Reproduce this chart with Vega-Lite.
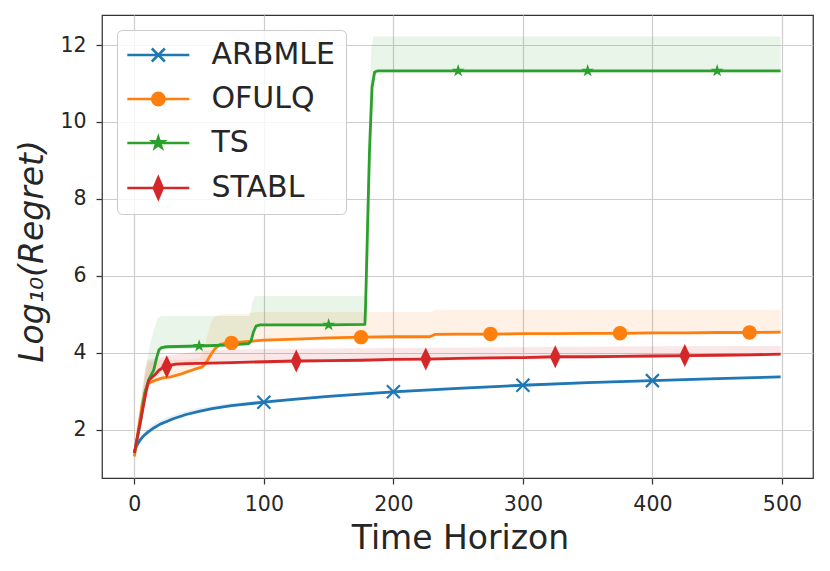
{
  "$schema": "https://vega.github.io/schema/vega-lite/v6.json",
  "description": "Log10 regret over the time horizon for ARBMLE, OFULQ, TS and STABL, with shaded spread bands.",
  "autosize": {"type": "none"},
  "padding": {"left": 102, "top": 15, "right": 17, "bottom": 93},
  "width": 711,
  "height": 463,
  "datasets": {
    "lines": [
      {"series": "ARBMLE", "x": 0, "y": 1.4},
      {"series": "ARBMLE", "x": 1, "y": 1.52},
      {"series": "ARBMLE", "x": 2, "y": 1.6},
      {"series": "ARBMLE", "x": 3, "y": 1.66},
      {"series": "ARBMLE", "x": 5, "y": 1.76},
      {"series": "ARBMLE", "x": 7, "y": 1.84},
      {"series": "ARBMLE", "x": 10, "y": 1.93},
      {"series": "ARBMLE", "x": 15, "y": 2.05},
      {"series": "ARBMLE", "x": 20, "y": 2.15},
      {"series": "ARBMLE", "x": 25, "y": 2.22},
      {"series": "ARBMLE", "x": 30, "y": 2.29},
      {"series": "ARBMLE", "x": 40, "y": 2.4},
      {"series": "ARBMLE", "x": 50, "y": 2.48},
      {"series": "ARBMLE", "x": 60, "y": 2.55},
      {"series": "ARBMLE", "x": 75, "y": 2.63},
      {"series": "ARBMLE", "x": 100, "y": 2.72},
      {"series": "ARBMLE", "x": 125, "y": 2.8},
      {"series": "ARBMLE", "x": 150, "y": 2.87},
      {"series": "ARBMLE", "x": 175, "y": 2.93},
      {"series": "ARBMLE", "x": 200, "y": 2.99},
      {"series": "ARBMLE", "x": 250, "y": 3.08},
      {"series": "ARBMLE", "x": 300, "y": 3.16},
      {"series": "ARBMLE", "x": 350, "y": 3.23},
      {"series": "ARBMLE", "x": 400, "y": 3.28},
      {"series": "ARBMLE", "x": 450, "y": 3.33},
      {"series": "ARBMLE", "x": 499, "y": 3.38},

      {"series": "OFULQ", "x": 0, "y": 1.31},
      {"series": "OFULQ", "x": 3, "y": 2.0},
      {"series": "OFULQ", "x": 6, "y": 2.65},
      {"series": "OFULQ", "x": 9, "y": 3.08},
      {"series": "OFULQ", "x": 11, "y": 3.21},
      {"series": "OFULQ", "x": 14, "y": 3.26},
      {"series": "OFULQ", "x": 17, "y": 3.3},
      {"series": "OFULQ", "x": 22, "y": 3.35},
      {"series": "OFULQ", "x": 28, "y": 3.38},
      {"series": "OFULQ", "x": 35, "y": 3.44},
      {"series": "OFULQ", "x": 40, "y": 3.5},
      {"series": "OFULQ", "x": 46, "y": 3.57},
      {"series": "OFULQ", "x": 52, "y": 3.63},
      {"series": "OFULQ", "x": 55, "y": 3.72},
      {"series": "OFULQ", "x": 58, "y": 3.9},
      {"series": "OFULQ", "x": 62, "y": 4.1},
      {"series": "OFULQ", "x": 66, "y": 4.22},
      {"series": "OFULQ", "x": 70, "y": 4.25},
      {"series": "OFULQ", "x": 75, "y": 4.26},
      {"series": "OFULQ", "x": 88, "y": 4.3},
      {"series": "OFULQ", "x": 100, "y": 4.33},
      {"series": "OFULQ", "x": 125, "y": 4.36},
      {"series": "OFULQ", "x": 150, "y": 4.39},
      {"series": "OFULQ", "x": 175, "y": 4.41},
      {"series": "OFULQ", "x": 200, "y": 4.42},
      {"series": "OFULQ", "x": 228, "y": 4.42},
      {"series": "OFULQ", "x": 232, "y": 4.48},
      {"series": "OFULQ", "x": 250, "y": 4.49},
      {"series": "OFULQ", "x": 275, "y": 4.49},
      {"series": "OFULQ", "x": 300, "y": 4.5},
      {"series": "OFULQ", "x": 325, "y": 4.5},
      {"series": "OFULQ", "x": 350, "y": 4.51},
      {"series": "OFULQ", "x": 375, "y": 4.51},
      {"series": "OFULQ", "x": 400, "y": 4.52},
      {"series": "OFULQ", "x": 425, "y": 4.52},
      {"series": "OFULQ", "x": 450, "y": 4.53},
      {"series": "OFULQ", "x": 475, "y": 4.53},
      {"series": "OFULQ", "x": 499, "y": 4.54},

      {"series": "TS", "x": 0, "y": 1.4},
      {"series": "TS", "x": 2, "y": 1.75},
      {"series": "TS", "x": 5, "y": 2.25},
      {"series": "TS", "x": 8, "y": 2.95},
      {"series": "TS", "x": 11, "y": 3.3},
      {"series": "TS", "x": 15, "y": 3.56},
      {"series": "TS", "x": 17, "y": 3.85},
      {"series": "TS", "x": 19, "y": 4.08},
      {"series": "TS", "x": 21, "y": 4.14},
      {"series": "TS", "x": 25, "y": 4.16},
      {"series": "TS", "x": 50, "y": 4.18},
      {"series": "TS", "x": 75, "y": 4.21},
      {"series": "TS", "x": 88, "y": 4.24},
      {"series": "TS", "x": 90, "y": 4.3},
      {"series": "TS", "x": 92, "y": 4.55},
      {"series": "TS", "x": 94, "y": 4.7},
      {"series": "TS", "x": 97, "y": 4.73},
      {"series": "TS", "x": 150, "y": 4.73},
      {"series": "TS", "x": 178, "y": 4.74},
      {"series": "TS", "x": 178.5, "y": 5.2},
      {"series": "TS", "x": 180, "y": 7.2},
      {"series": "TS", "x": 181.5, "y": 9.2},
      {"series": "TS", "x": 183.5, "y": 10.9},
      {"series": "TS", "x": 185.5, "y": 11.3},
      {"series": "TS", "x": 188, "y": 11.33},
      {"series": "TS", "x": 250, "y": 11.33},
      {"series": "TS", "x": 350, "y": 11.33},
      {"series": "TS", "x": 450, "y": 11.33},
      {"series": "TS", "x": 499, "y": 11.33},

      {"series": "STABL", "x": 0, "y": 1.4},
      {"series": "STABL", "x": 3, "y": 1.92},
      {"series": "STABL", "x": 6, "y": 2.45},
      {"series": "STABL", "x": 9, "y": 2.98},
      {"series": "STABL", "x": 11, "y": 3.28},
      {"series": "STABL", "x": 13, "y": 3.35},
      {"series": "STABL", "x": 16, "y": 3.44},
      {"series": "STABL", "x": 19, "y": 3.55},
      {"series": "STABL", "x": 22, "y": 3.62},
      {"series": "STABL", "x": 25, "y": 3.64},
      {"series": "STABL", "x": 28, "y": 3.68},
      {"series": "STABL", "x": 32, "y": 3.71},
      {"series": "STABL", "x": 40, "y": 3.72},
      {"series": "STABL", "x": 50, "y": 3.73},
      {"series": "STABL", "x": 75, "y": 3.75},
      {"series": "STABL", "x": 100, "y": 3.77},
      {"series": "STABL", "x": 125, "y": 3.79},
      {"series": "STABL", "x": 150, "y": 3.8},
      {"series": "STABL", "x": 175, "y": 3.81},
      {"series": "STABL", "x": 200, "y": 3.83},
      {"series": "STABL", "x": 225, "y": 3.84},
      {"series": "STABL", "x": 250, "y": 3.86},
      {"series": "STABL", "x": 275, "y": 3.87},
      {"series": "STABL", "x": 300, "y": 3.88},
      {"series": "STABL", "x": 325, "y": 3.9},
      {"series": "STABL", "x": 350, "y": 3.9},
      {"series": "STABL", "x": 375, "y": 3.91},
      {"series": "STABL", "x": 400, "y": 3.92},
      {"series": "STABL", "x": 425, "y": 3.93},
      {"series": "STABL", "x": 450, "y": 3.94},
      {"series": "STABL", "x": 475, "y": 3.95},
      {"series": "STABL", "x": 499, "y": 3.97}
    ],
    "bands": [
      {"series": "ARBMLE", "x": 0, "lo": 1.37, "hi": 1.42},
      {"series": "ARBMLE", "x": 3, "lo": 1.63, "hi": 1.72},
      {"series": "ARBMLE", "x": 5, "lo": 1.73, "hi": 1.85},
      {"series": "ARBMLE", "x": 10, "lo": 1.9, "hi": 2.03},
      {"series": "ARBMLE", "x": 15, "lo": 2.02, "hi": 2.15},
      {"series": "ARBMLE", "x": 20, "lo": 2.12, "hi": 2.25},
      {"series": "ARBMLE", "x": 30, "lo": 2.26, "hi": 2.38},
      {"series": "ARBMLE", "x": 40, "lo": 2.37, "hi": 2.49},
      {"series": "ARBMLE", "x": 50, "lo": 2.45, "hi": 2.57},
      {"series": "ARBMLE", "x": 75, "lo": 2.6, "hi": 2.7},
      {"series": "ARBMLE", "x": 100, "lo": 2.69, "hi": 2.77},
      {"series": "ARBMLE", "x": 150, "lo": 2.84, "hi": 2.91},
      {"series": "ARBMLE", "x": 200, "lo": 2.96, "hi": 3.03},
      {"series": "ARBMLE", "x": 250, "lo": 3.05, "hi": 3.12},
      {"series": "ARBMLE", "x": 300, "lo": 3.13, "hi": 3.19},
      {"series": "ARBMLE", "x": 350, "lo": 3.2, "hi": 3.26},
      {"series": "ARBMLE", "x": 400, "lo": 3.25, "hi": 3.31},
      {"series": "ARBMLE", "x": 450, "lo": 3.3, "hi": 3.36},
      {"series": "ARBMLE", "x": 499, "lo": 3.35, "hi": 3.41},

      {"series": "OFULQ", "x": 0, "lo": 1.27, "hi": 1.35},
      {"series": "OFULQ", "x": 3, "lo": 1.95, "hi": 2.3},
      {"series": "OFULQ", "x": 6, "lo": 2.6, "hi": 3.0},
      {"series": "OFULQ", "x": 9, "lo": 3.03, "hi": 3.5},
      {"series": "OFULQ", "x": 11, "lo": 3.16, "hi": 3.75},
      {"series": "OFULQ", "x": 17, "lo": 3.25, "hi": 3.8},
      {"series": "OFULQ", "x": 28, "lo": 3.33, "hi": 3.81},
      {"series": "OFULQ", "x": 40, "lo": 3.45, "hi": 3.82},
      {"series": "OFULQ", "x": 50, "lo": 3.56, "hi": 3.85},
      {"series": "OFULQ", "x": 53, "lo": 3.6, "hi": 4.0},
      {"series": "OFULQ", "x": 56, "lo": 3.72, "hi": 4.4},
      {"series": "OFULQ", "x": 59, "lo": 3.9, "hi": 4.8},
      {"series": "OFULQ", "x": 62, "lo": 4.05, "hi": 4.95},
      {"series": "OFULQ", "x": 66, "lo": 4.17, "hi": 5.0},
      {"series": "OFULQ", "x": 75, "lo": 4.21, "hi": 5.01},
      {"series": "OFULQ", "x": 88, "lo": 4.25, "hi": 5.02},
      {"series": "OFULQ", "x": 92, "lo": 4.27, "hi": 5.06},
      {"series": "OFULQ", "x": 150, "lo": 4.34, "hi": 5.06},
      {"series": "OFULQ", "x": 228, "lo": 4.37, "hi": 5.06},
      {"series": "OFULQ", "x": 233, "lo": 4.43, "hi": 5.12},
      {"series": "OFULQ", "x": 300, "lo": 4.45, "hi": 5.12},
      {"series": "OFULQ", "x": 400, "lo": 4.47, "hi": 5.12},
      {"series": "OFULQ", "x": 499, "lo": 4.49, "hi": 5.12},

      {"series": "TS", "x": 0, "lo": 1.36, "hi": 1.45},
      {"series": "TS", "x": 3, "lo": 1.85, "hi": 2.2},
      {"series": "TS", "x": 6, "lo": 2.35, "hi": 3.0},
      {"series": "TS", "x": 9, "lo": 3.0, "hi": 3.7},
      {"series": "TS", "x": 12, "lo": 3.3, "hi": 4.2},
      {"series": "TS", "x": 15, "lo": 3.5, "hi": 4.6},
      {"series": "TS", "x": 18, "lo": 3.8, "hi": 4.9},
      {"series": "TS", "x": 21, "lo": 4.08, "hi": 4.96},
      {"series": "TS", "x": 50, "lo": 4.12, "hi": 4.96},
      {"series": "TS", "x": 89, "lo": 4.18, "hi": 4.96},
      {"series": "TS", "x": 91, "lo": 4.35, "hi": 5.3},
      {"series": "TS", "x": 93, "lo": 4.6, "hi": 5.48},
      {"series": "TS", "x": 97, "lo": 4.68, "hi": 5.48},
      {"series": "TS", "x": 178, "lo": 4.69, "hi": 5.48},
      {"series": "TS", "x": 179, "lo": 4.9, "hi": 7.0},
      {"series": "TS", "x": 181, "lo": 6.5, "hi": 10.0},
      {"series": "TS", "x": 183, "lo": 9.8, "hi": 11.9},
      {"series": "TS", "x": 184.5, "lo": 10.8, "hi": 12.22},
      {"series": "TS", "x": 186, "lo": 11.2, "hi": 12.22},
      {"series": "TS", "x": 188, "lo": 11.28, "hi": 12.22},
      {"series": "TS", "x": 499, "lo": 11.28, "hi": 12.22},

      {"series": "STABL", "x": 0, "lo": 1.36, "hi": 1.45},
      {"series": "STABL", "x": 3, "lo": 1.86, "hi": 2.1},
      {"series": "STABL", "x": 6, "lo": 2.38, "hi": 2.9},
      {"series": "STABL", "x": 8, "lo": 2.7, "hi": 3.5},
      {"series": "STABL", "x": 10, "lo": 3.05, "hi": 3.8},
      {"series": "STABL", "x": 11, "lo": 3.23, "hi": 3.82},
      {"series": "STABL", "x": 16, "lo": 3.39, "hi": 3.85},
      {"series": "STABL", "x": 22, "lo": 3.57, "hi": 3.9},
      {"series": "STABL", "x": 30, "lo": 3.65, "hi": 3.95},
      {"series": "STABL", "x": 40, "lo": 3.67, "hi": 4.0},
      {"series": "STABL", "x": 60, "lo": 3.69, "hi": 4.07},
      {"series": "STABL", "x": 100, "lo": 3.72, "hi": 4.1},
      {"series": "STABL", "x": 200, "lo": 3.78, "hi": 4.13},
      {"series": "STABL", "x": 300, "lo": 3.83, "hi": 4.15},
      {"series": "STABL", "x": 400, "lo": 3.87, "hi": 4.17},
      {"series": "STABL", "x": 499, "lo": 3.92, "hi": 4.18}
    ]
  },
  "encoding": {
    "x": {
      "field": "x",
      "type": "quantitative",
      "scale": {"domain": [-25, 524], "nice": false, "zero": false},
      "axis": {
        "title": "Time Horizon",
        "values": [0, 100, 200, 300, 400, 500],
        "titleFontSize": 33,
        "titleBaseline": "alphabetic",
        "titleX": 358,
        "titleY": 70,
        "labelBaseline": "alphabetic",
        "labelPadding": 26.5
      }
    }
  },
  "layer": [
    {
      "data": {"name": "bands"},
      "mark": {"type": "area", "orient": "vertical", "opacity": 0.11},
      "encoding": {
        "y": {
          "field": "lo",
          "type": "quantitative",
          "scale": {"domain": [0.75, 12.78], "nice": false, "zero": false},
          "axis": {
            "title": "Log₁₀(Regret)",
            "values": [2, 4, 6, 8, 10, 12],
            "titleFontSize": 33,
            "titleFontStyle": "italic",
            "titleAngle": -90,
            "titleBaseline": "alphabetic",
            "titleAlign": "center",
            "titleX": -60,
            "titleY": 236,
            "labelPadding": 10
          }
        },
        "y2": {"field": "hi"},
        "color": {
          "field": "series",
          "type": "nominal",
          "scale": {"domain": ["ARBMLE", "OFULQ", "TS", "STABL"], "range": ["#1f77b4", "#ff7f0e", "#2ca02c", "#d62728"]},
          "legend": {
            "title": null,
            "orient": "none",
            "legendX": 15,
            "legendY": 15,
            "padding": 10,
            "rowPadding": 14,
            "symbolSize": 400,
            "symbolStrokeWidth": 2.5,
            "symbolOffset": 16.3,
            "labelOffset": 38.2,
            "labelFontSize": 30,
            "labelColor": "#262626",
            "fillColor": "rgba(255,255,255,0.8)",
            "strokeColor": "#cccccc",
            "cornerRadius": 5,
            "encoding": {
              "symbols": {
                "shape": {"value": {"expr": "datum.value === 'ARBMLE' ? 'M-3.1,0H3.1M-0.65,-0.65L0.65,0.65M-0.65,0.65L0.65,-0.65' : datum.value === 'OFULQ' ? 'M-3.1,0H3.1M-0.62,0A0.62,0.62 0 1,0 0.62,0A0.62,0.62 0 1,0 -0.62,0Z' : datum.value === 'TS' ? 'M-3.1,0H3.1M0,-0.58L0.13,-0.179L0.552,-0.179L0.211,0.068L0.341,0.469L0,0.222L-0.341,0.469L-0.211,0.068L-0.552,-0.179L-0.13,-0.179Z' : 'M-3.1,0H3.1M0,-1.05L0.45,0L0,1.05L-0.45,0Z'"}},
                "fill": {"value": {"expr": "scale('color', datum.value)"}},
                "stroke": {"value": {"expr": "scale('color', datum.value)"}},
                "strokeWidth": {"value": 2.5},
                "opacity": {"value": 1},
                "fillOpacity": {"value": 1},
                "strokeOpacity": {"value": 1}
              }
            }
          }
        }
      }
    },
    {
      "data": {"name": "lines"},
      "mark": {"type": "line", "strokeWidth": 2.8, "strokeJoin": "round"},
      "encoding": {
        "y": {"field": "y", "type": "quantitative"},
        "color": {"field": "series", "type": "nominal"}
      }
    },
    {
      "data": {"name": "lines"},
      "transform": [{"filter": "datum.series === 'ARBMLE' && datum.x > 0 && datum.x % 100 == 0"}],
      "mark": {"type": "point", "filled": false, "opacity": 1, "strokeWidth": 2.2, "size": 400, "shape": "M-0.65,-0.65L0.65,0.65M-0.65,0.65L0.65,-0.65"},
      "encoding": {
        "y": {"field": "y", "type": "quantitative"},
        "color": {"field": "series", "type": "nominal"}
      }
    },
    {
      "data": {"name": "lines"},
      "transform": [{"filter": "datum.series === 'STABL' && datum.x % 100 == 25"}],
      "mark": {"type": "point", "filled": true, "opacity": 1, "size": 400, "shape": "M0,-1.15L0.55,0L0,1.15L-0.55,0Z"},
      "encoding": {
        "y": {"field": "y", "type": "quantitative"},
        "color": {"field": "series", "type": "nominal"}
      }
    },
    {
      "data": {"name": "lines"},
      "transform": [{"filter": "datum.series === 'TS' && datum.x % 100 == 50"}],
      "mark": {"type": "point", "filled": true, "opacity": 1, "size": 400, "shape": "M0,-0.68L0.153,-0.21L0.647,-0.21L0.247,0.08L0.4,0.55L0,0.26L-0.4,0.55L-0.247,0.08L-0.647,-0.21L-0.153,-0.21Z"},
      "encoding": {
        "y": {"field": "y", "type": "quantitative"},
        "color": {"field": "series", "type": "nominal"}
      }
    },
    {
      "data": {"name": "lines"},
      "transform": [{"filter": "datum.series === 'OFULQ' && datum.x % 100 == 75"}],
      "mark": {"type": "point", "filled": true, "opacity": 1, "size": 400, "shape": "M-0.72,0A0.72,0.72 0 1,0 0.72,0A0.72,0.72 0 1,0 -0.72,0Z"},
      "encoding": {
        "y": {"field": "y", "type": "quantitative"},
        "color": {"field": "series", "type": "nominal"}
      }
    }
  ],
  "config": {
    "font": "DejaVu Sans",
    "view": {"stroke": "#333333", "strokeWidth": 1.25},
    "axis": {
      "domain": false,
      "grid": true,
      "gridColor": "#cccccc",
      "gridWidth": 1.2,
      "ticks": true,
      "tickColor": "#333333",
      "tickSize": 6,
      "tickWidth": 1.25,
      "labelFont": "DejaVu Sans",
      "labelFontSize": 20.5,
      "labelColor": "#262626",
      "titleFont": "DejaVu Sans",
      "titleFontWeight": "normal",
      "titleColor": "#262626"
    },
    "legend": {"labelFont": "DejaVu Sans"}
  }
}
